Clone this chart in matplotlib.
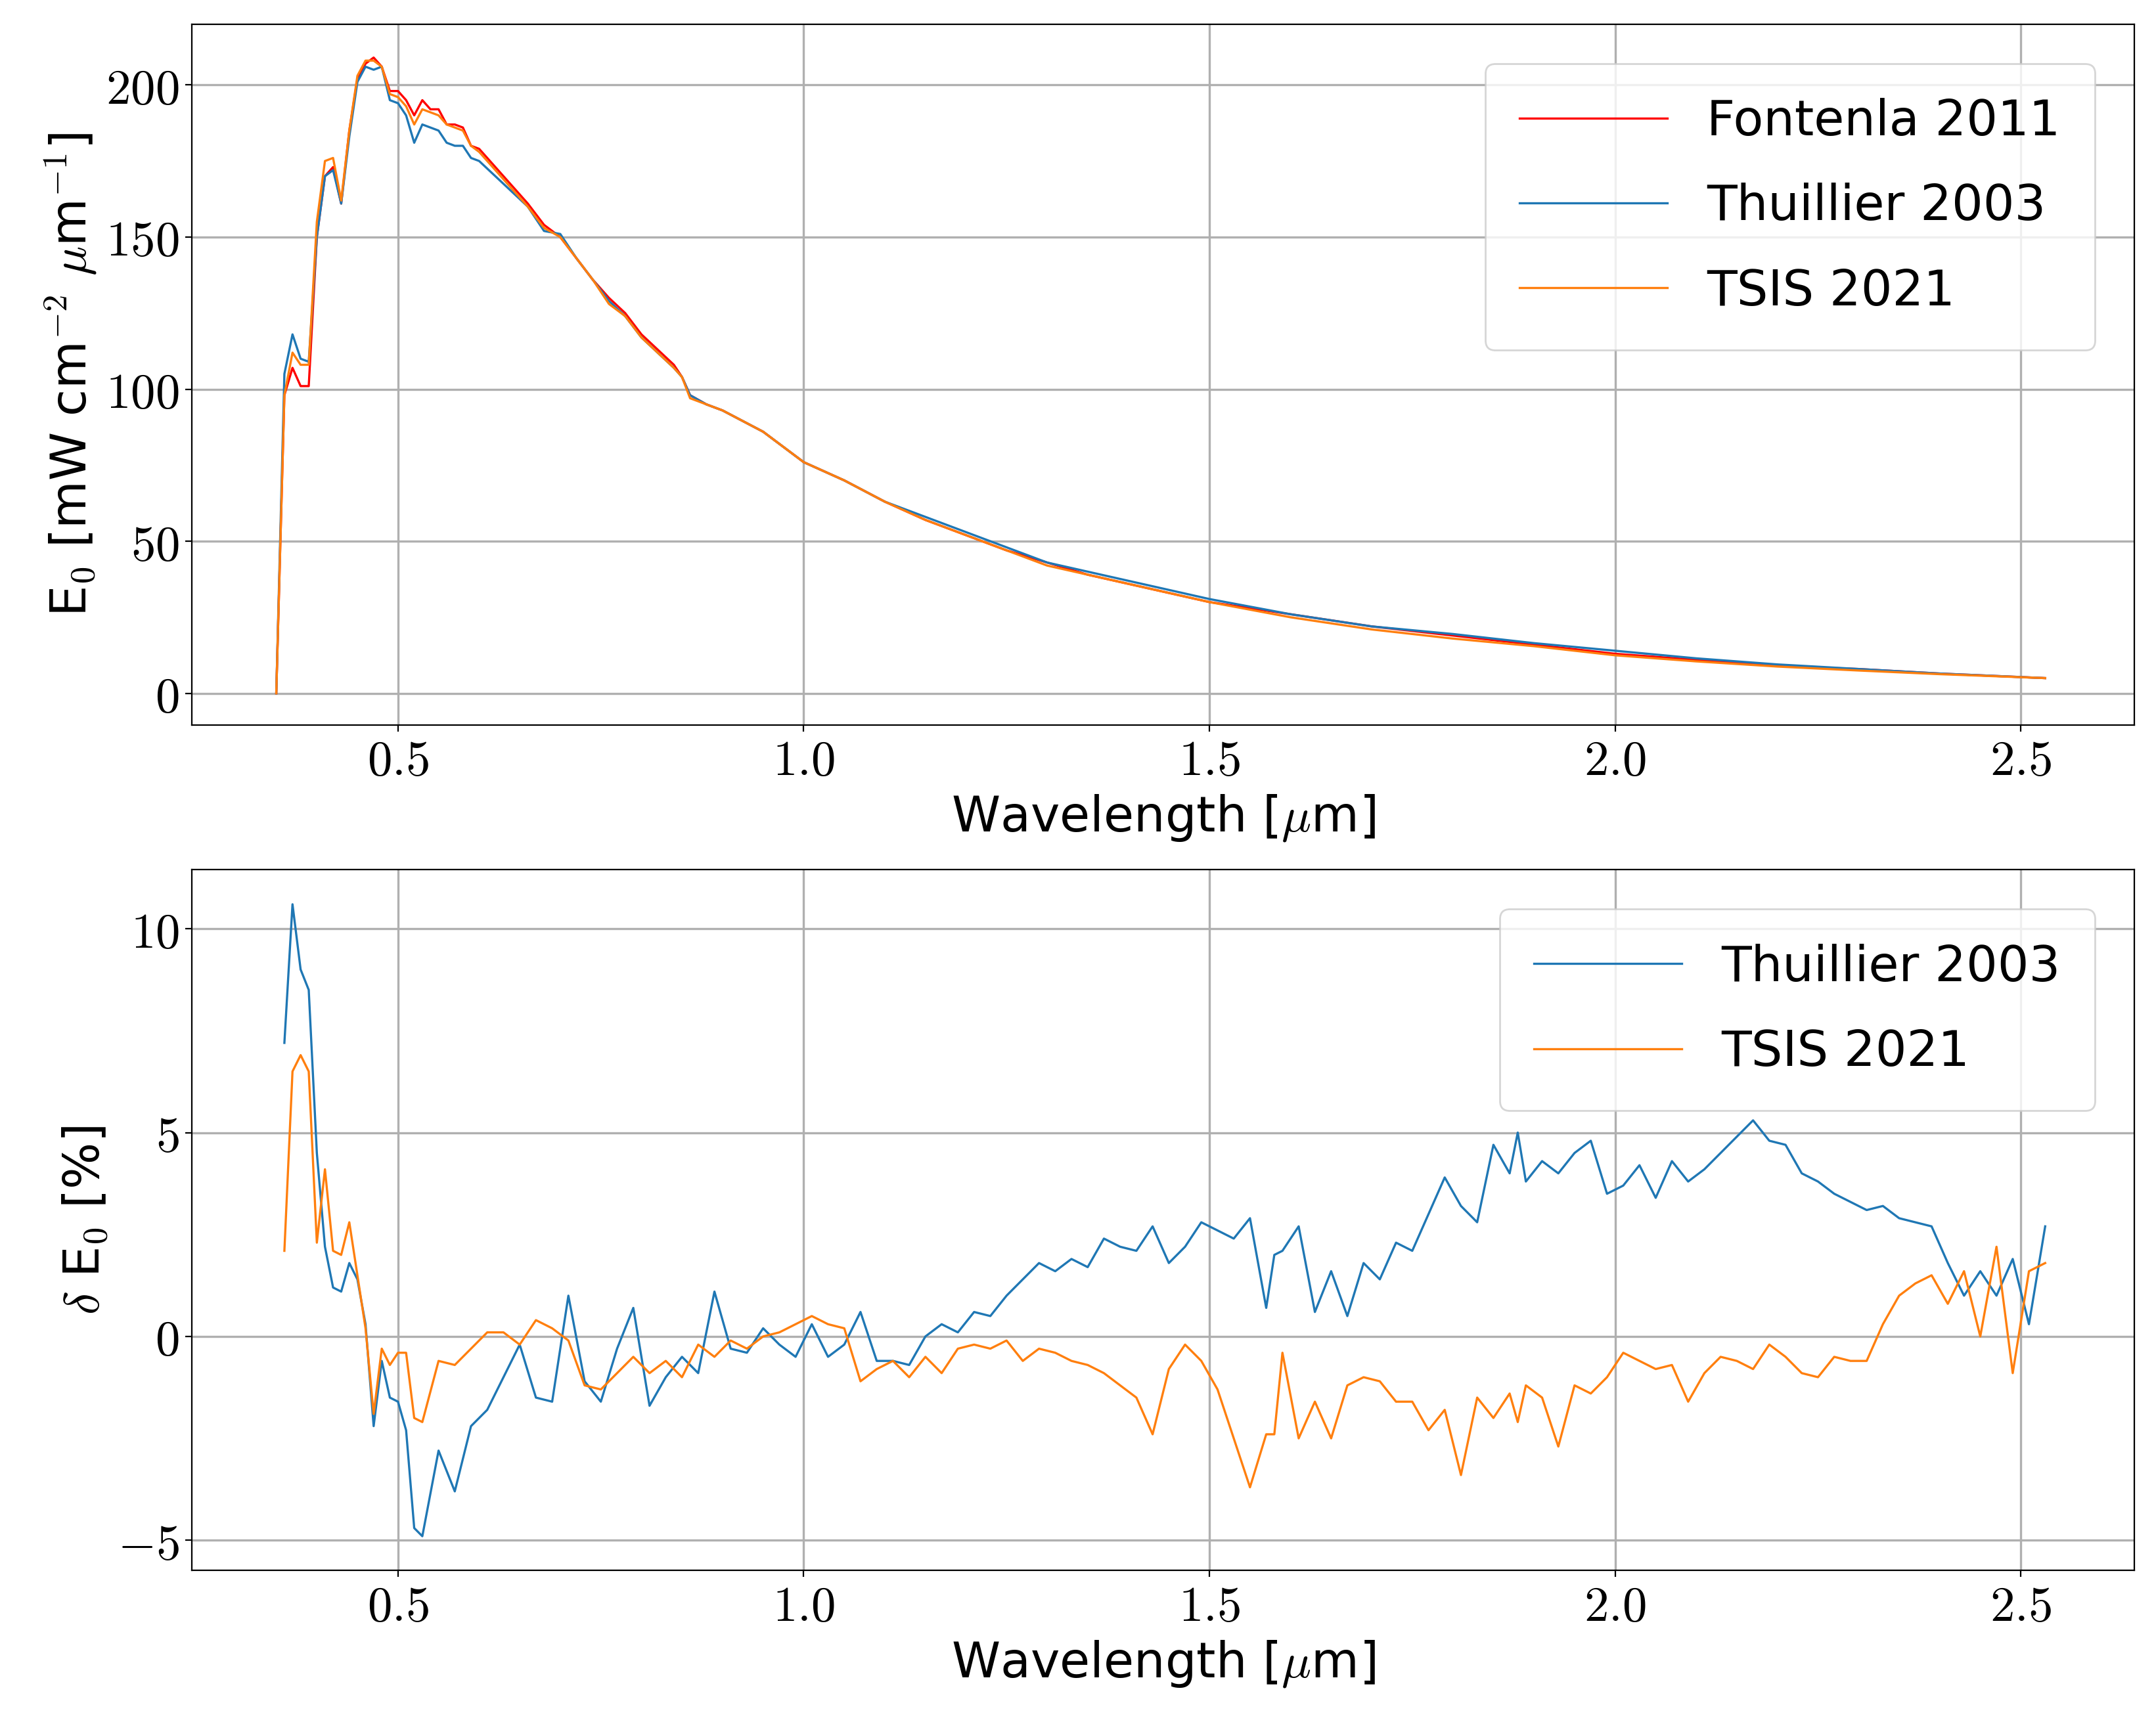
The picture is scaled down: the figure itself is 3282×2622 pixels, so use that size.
import matplotlib
matplotlib.use("Agg")
import matplotlib.pyplot as plt
from matplotlib.ticker import FuncFormatter

plt.rcParams["mathtext.fontset"] = "cm"
plt.rcParams["font.family"] = ["DejaVu Sans"]

# top panel: solar irradiance spectra
wl = [0.35, 0.36, 0.37, 0.38, 0.39, 0.40, 0.41, 0.42, 0.43, 0.44, 0.45, 0.46, 0.47,
      0.48, 0.49, 0.50, 0.51, 0.52, 0.53, 0.54, 0.55, 0.56, 0.57, 0.58, 0.59, 0.60,
      0.62, 0.64, 0.66, 0.68, 0.70, 0.72, 0.74, 0.76, 0.78, 0.80, 0.82, 0.84,
      0.85, 0.86, 0.88, 0.90,
      0.95, 1.0, 1.05, 1.1, 1.15, 1.2, 1.25, 1.3, 1.35, 1.4, 1.45, 1.5,
      1.6, 1.7, 1.8, 1.9, 2.0, 2.1, 2.2, 2.3, 2.4, 2.53]
fontenla = [0, 98, 107, 101, 101, 150, 170, 173, 161, 185, 202, 207, 209, 206, 198,
            198, 195, 190, 195, 192, 192, 187, 187, 186, 180, 179,
            173, 167, 161, 154, 150, 143, 136, 130, 125, 118, 113, 108, 104, 98, 95, 93,
            86, 76, 70, 63, 57, 52, 47, 43, 39, 36, 33, 30,
            26, 22, 19, 16, 13, 11, 9, 8, 6.5, 5]
thuillier = [0, 105, 118, 110, 109, 150, 170, 172, 161, 183, 201, 206, 205, 206, 195,
             194, 190, 181, 187, 186, 185, 181, 180, 180, 176, 175,
             170, 165, 160, 152, 151, 143, 136, 129, 124, 117, 112, 107, 104, 98, 95, 93,
             86, 76, 70, 63, 58, 53, 48, 43, 40, 37, 34, 31,
             26, 22, 19.5, 16.5, 14, 11.5, 9.5, 8, 6.5, 5]
tsis = [0, 98, 112, 108, 108, 155, 175, 176, 162, 185, 203, 208, 208, 206, 197,
        196, 193, 187, 192, 191, 190, 187, 186, 185, 180, 178,
        172, 166, 160, 153, 150, 143, 136, 128, 124, 117, 112, 107, 104, 97, 95, 93,
        86, 76, 70, 63, 57, 52, 47, 42, 39, 36, 33, 30,
        25, 21, 18, 15.5, 12.5, 10.5, 8.8, 7.5, 6.3, 5]

# bottom panel: relative difference to Fontenla 2011 [%]
wl_d = ([0.36, 0.37, 0.38, 0.39, 0.40, 0.41, 0.42, 0.43, 0.44, 0.45, 0.46, 0.47, 0.48,
         0.49, 0.50, 0.51, 0.52, 0.53]
        + [round(0.55 + 0.02 * i, 2) for i in range(52)]
        + [1.58, 1.59]
        + [round(1.61 + 0.02 * i, 2) for i in range(14)]
        + [1.88]
        + [round(1.89 + 0.02 * i, 2) for i in range(33)])
d_thuillier = [7.2, 10.6, 9.0, 8.5, 4.5, 2.2, 1.2, 1.1, 1.8, 1.4, 0.3, -2.2, -0.6, -1.5,
               -1.6, -2.3, -4.7, -4.9,
               -2.8, -3.8, -2.2, -1.8, -1.0, -0.2, -1.5, -1.6, 1.0, -1.1, -1.6, -0.3, 0.7,
               -1.7, -1.0, -0.5, -0.9, 1.1, -0.3, -0.4, 0.2, -0.2, -0.5, 0.3, -0.5, -0.2,
               0.6, -0.6, -0.6, -0.7, 0.0, 0.3, 0.1, 0.6, 0.5, 1.0, 1.4, 1.8, 1.6, 1.9,
               1.7, 2.4, 2.2, 2.1, 2.7, 1.8, 2.2, 2.8, 2.6, 2.4, 2.9, 0.7,
               2.0, 2.1,
               2.7, 0.6, 1.6, 0.5, 1.8, 1.4, 2.3, 2.1, 3.0, 3.9, 3.2, 2.8, 4.7, 4.0,
               5.0,
               3.8, 4.3, 4.0, 4.5, 4.8, 3.5, 3.7, 4.2, 3.4, 4.3, 3.8, 4.1, 4.5, 4.9, 5.3,
               4.8, 4.7, 4.0, 3.8, 3.5, 3.3, 3.1, 3.2, 2.9, 2.8, 2.7, 1.8, 1.0, 1.6, 1.0,
               1.9, 0.3, 2.7]
d_tsis = [2.1, 6.5, 6.9, 6.5, 2.3, 4.1, 2.1, 2.0, 2.8, 1.5, 0.2, -1.9, -0.3, -0.7,
          -0.4, -0.4, -2.0, -2.1,
          -0.6, -0.7, -0.3, 0.1, 0.1, -0.2, 0.4, 0.2, -0.1, -1.2, -1.3, -0.9, -0.5,
          -0.9, -0.6, -1.0, -0.2, -0.5, -0.1, -0.3, 0.0, 0.1, 0.3, 0.5, 0.3, 0.2,
          -1.1, -0.8, -0.6, -1.0, -0.5, -0.9, -0.3, -0.2, -0.3, -0.1, -0.6, -0.3,
          -0.4, -0.6, -0.7, -0.9, -1.2, -1.5, -2.4, -0.8, -0.2, -0.6, -1.3, -2.5,
          -3.7, -2.4,
          -2.4, -0.4,
          -2.5, -1.6, -2.5, -1.2, -1.0, -1.1, -1.6, -1.6, -2.3, -1.8, -3.4, -1.5,
          -2.0, -1.4,
          -2.1,
          -1.2, -1.5, -2.7, -1.2, -1.4, -1.0, -0.4, -0.6, -0.8, -0.7, -1.6, -0.9,
          -0.5, -0.6, -0.8, -0.2, -0.5, -0.9, -1.0, -0.5, -0.6, -0.6, 0.3, 1.0, 1.3,
          1.5, 0.8, 1.6, 0.0, 2.2, -0.9, 1.6, 1.8]

fig = plt.figure(figsize=(16.41, 13.11), dpi=200)
ax1 = fig.add_axes([0.089, 0.579, 0.901, 0.407])
ax2 = fig.add_axes([0.089, 0.088, 0.901, 0.407])

ax1.plot(wl, fontenla, color="red", lw=1.2, label="Fontenla 2011")
ax1.plot(wl, thuillier, color="#1f77b4", lw=1.2, label="Thuillier 2003")
ax1.plot(wl, tsis, color="#ff7f0e", lw=1.2, label="TSIS 2021")
ax1.set_ylim(-10.4, 220)
ax1.set_yticks([0, 50, 100, 150, 200])
ax1.set_ylabel(r"E$_0$ [mW cm$^{-2}$ $\mu$m$^{-1}$]", fontsize=27)

ax2.plot(wl_d, d_thuillier, color="#1f77b4", lw=1.2, label="Thuillier 2003")
ax2.plot(wl_d, d_tsis, color="#ff7f0e", lw=1.2, label="TSIS 2021")
ax2.set_ylim(-5.74, 11.45)
ax2.set_yticks([-5, 0, 5, 10])
ax2.set_ylabel(r"$\delta$ E$_0$ [%]", fontsize=27)

fmt = FuncFormatter(lambda v, p: "$%g$" % v)
fmt1 = FuncFormatter(lambda v, p: "$%.1f$" % v)
for ax in (ax1, ax2):
    ax.set_xlim(0.246, 2.64)
    ax.set_xticks([0.5, 1.0, 1.5, 2.0, 2.5])
    ax.xaxis.set_major_formatter(fmt1)
    ax.yaxis.set_major_formatter(fmt)
    ax.tick_params(labelsize=27)
    ax.grid(True, color="#b0b0b0", lw=1.2)
    ax.set_xlabel(r"Wavelength [$\mu$m]", fontsize=27)
    ax.legend(loc="upper right", fontsize=27, handlelength=3, labelspacing=0.75,
              borderpad=0.7, borderaxespad=0.8)

fig.savefig("out.png", dpi=200)
